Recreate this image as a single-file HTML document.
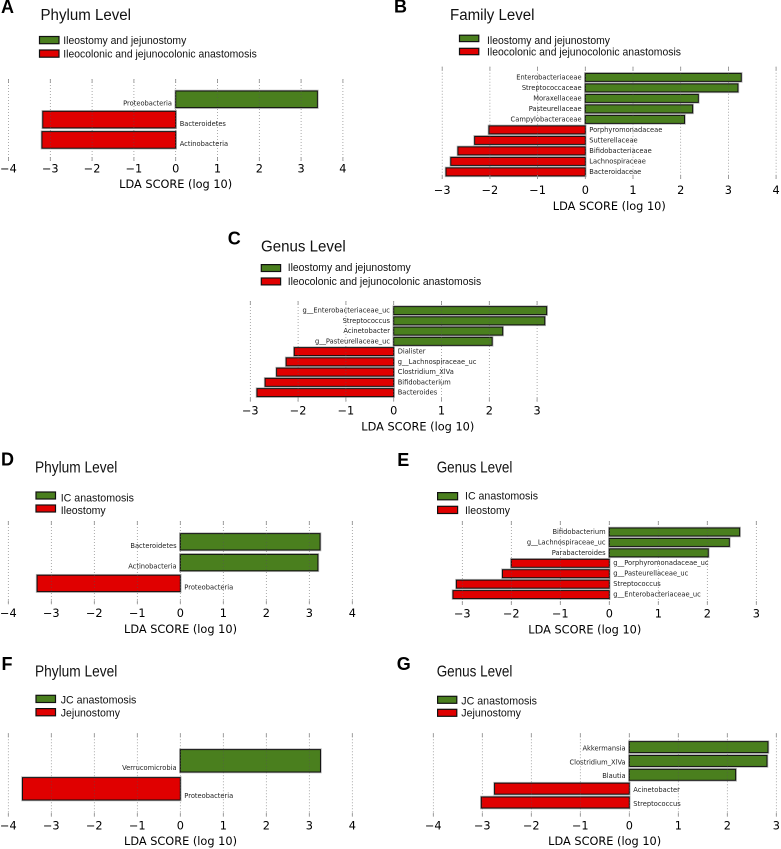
<!DOCTYPE html>
<html lang="en">
<head>
<meta charset="utf-8">
<title>LDA score panels</title>
<style>
html,body{margin:0;padding:0;background:#fff;width:781px;height:849px;overflow:hidden}
svg{display:block;filter:blur(0.3px)}
.letter{font-family:"Liberation Sans",sans-serif;font-weight:700;font-size:18px;fill:#000}
.title{font-family:"Liberation Sans",sans-serif;font-size:15.3px;fill:#111}
.legend-text{font-family:"Liberation Sans",sans-serif;font-size:10.8px;fill:#111}
.tick{font-family:"DejaVu Sans",sans-serif;font-size:11.3px;fill:#000;text-anchor:middle}
.axis-title{font-family:"DejaVu Sans",sans-serif;font-size:11.3px;fill:#000;text-anchor:middle}
.cat{font-family:"DejaVu Sans",sans-serif;font-size:6.7px;fill:#222}
</style>
</head>
<body>
<svg id="figure" xmlns="http://www.w3.org/2000/svg" width="781" height="849" viewBox="0 0 781 849"></svg>
<script>
const panelACategories = ["Proteobacteria","Bacteroidetes","Actinobacteria"];
const panelAValues = [3.39,-3.18,-3.2];
const panelATicks = [-4,-3,-2,-1,0,1,2,3,4];
const panelALegend = ["Ileostomy and jejunostomy","Ileocolonic and jejunocolonic anastomosis"];

const panelBCategories = ["Enterobacteriaceae","Streptococcaceae","Moraxellaceae","Pasteurellaceae","Campylobacteraceae","Porphyromonadaceae","Sutterellaceae","Bifidobacteriaceae","Lachnospiraceae","Bacteroidaceae"];
const panelBValues = [3.27,3.2,2.37,2.25,2.08,-2.02,-2.32,-2.67,-2.82,-2.92];
const panelBTicks = [-3,-2,-1,0,1,2,3,4];
const panelBLegend = ["Ileostomy and jejunostomy","Ileocolonic and jejunocolonic anastomosis"];

const panelCCategories = ["g__Enterobacteriaceae_uc","Streptococcus","Acinetobacter","g__Pasteurellaceae_uc","Dialister","g__Lachnospiraceae_uc","Clostridium_XlVa","Bifidobacterium","Bacteroides"];
const panelCValues = [3.2,3.16,2.28,2.06,-2.08,-2.25,-2.45,-2.69,-2.86];
const panelCTicks = [-3,-2,-1,0,1,2,3];
const panelCLegend = ["Ileostomy and jejunostomy","Ileocolonic and jejunocolonic anastomosis"];

const panelDCategories = ["Bacteroidetes","Actinobacteria","Proteobacteria"];
const panelDValues = [3.25,3.2,-3.33];
const panelDTicks = [-4,-3,-2,-1,0,1,2,3,4];
const panelDLegend = ["IC anastomosis","Ileostomy"];

const panelECategories = ["Bifidobacterium","g__Lachnospiraceae_uc","Parabacteroides","g__Porphyromonadaceae_uc","g__Pasteurellaceae_uc","Streptococcus","g__Enterobacteriaceae_uc"];
const panelEValues = [2.66,2.45,2.02,-2.0,-2.18,-3.12,-3.19];
const panelETicks = [-3,-2,-1,0,1,2,3];
const panelELegend = ["IC anastomosis","Ileostomy"];

const panelFCategories = ["Verrucomicrobia","Proteobacteria"];
const panelFValues = [3.26,-3.67];
const panelFTicks = [-4,-3,-2,-1,0,1,2,3,4];
const panelFLegend = ["JC anastomosis","Jejunostomy"];

const panelGCategories = ["Akkermansia","Clostridium_XlVa","Blautia","Acinetobacter","Streptococcus"];
const panelGValues = [2.83,2.81,2.17,-2.75,-3.02];
const panelGTicks = [-4,-3,-2,-1,0,1,2,3];
const panelGLegend = ["JC anastomosis","Jejunostomy"];

const NS = "http://www.w3.org/2000/svg";
const figure = document.getElementById("figure");

function make(parent, tag, attrs, text) {
  const el = document.createElementNS(NS, tag);
  for (const k in attrs) el.setAttribute(k, attrs[k]);
  if (text !== undefined) el.textContent = text;
  parent.appendChild(el);
  return el;
}

function drawPanel(p, categories, values, ticks, legend) {
  const g = make(figure, "g", {});
  
  
  const xScale = function (v) { return p.x0 + v * p.unit; };
  const yBand = function (i) { return p.barTop + i * p.pitch; };

  const letter = make(g, "text", {class:"letter", x:p.letterX, y:p.letterY}, p.id);
  
  

  const title = make(g, "text", {class:"title", x:p.titleX, y:p.titleY, textLength:p.titleW, lengthAdjust:"spacingAndGlyphs"}, p.title);
  
  

  legend.forEach(function (label, i) {
    const swatch = make(g, "rect", {x:p.swX, y:p.swY[i], width:p.swW, height:p.swH + 0.4, fill:i === 0 ? "#4a7f1e" : "#e00000", stroke:"#111", "stroke-width":1.2});
    
    
    const text = make(g, "text", {class:"legend-text", x:p.legX, y:p.legY[i], textLength:p.legW[i], lengthAdjust:"spacingAndGlyphs"}, label);
    
    
  });

  values.forEach(function (v, i) {
    const xa = xScale(Math.min(v, 0));
    const w = Math.abs(v) * p.unit;
    const halo = make(g, "rect", {x:xa - 0.8, y:yBand(i) - 0.8, width:w + 1.6, height:p.barH + 1.6, fill:"none", stroke:"#b5b5b5", "stroke-width":0.9});
    
    
    const bar = make(g, "rect", {x:xa, y:yBand(i), width:w, height:p.barH, fill:v >= 0 ? "#4a7f1e" : "#e00000", stroke:"#111", "stroke-width":1});
    
    
  });

  ticks.forEach(function (t) {
    const line = make(g, "line", {x1:xScale(t), x2:xScale(t), y1:p.gridTop, y2:p.gridBottom, stroke:"#555", "stroke-width":0.7, "stroke-dasharray":"1 2", opacity:0.7});
    
    
    const markTop = make(g, "line", {x1:xScale(t), x2:xScale(t), y1:p.gridTop, y2:p.gridTop + 4, stroke:"#888", "stroke-width":0.8});
    
    
    const markBottom = make(g, "line", {x1:xScale(t), x2:xScale(t), y1:p.gridBottom - 4, y2:p.gridBottom, stroke:"#888", "stroke-width":0.8});
    
    
    const label = make(g, "text", {class:"tick", x:xScale(t), y:p.tickY}, String(t).replace('-', '\u2212'));
    
    
  });

  categories.forEach(function (name, i) {
    const right = values[i] >= 0;
    const label = make(g, "text", {class:"cat", x:p.x0 + (right ? -3.7 : 4), y:yBand(i) + p.barH - 2.1, "text-anchor":right ? "end" : "start"}, name);
    
    
  });

  const axisTitle = make(g, "text", {class:"axis-title", x:p.labelX, y:p.labelY, textLength:113, lengthAdjust:"spacingAndGlyphs"}, "LDA SCORE (log 10)");
  
  
}

const panelALayout = {id:"A",title:"Phylum Level",letterX:1,letterY:13,titleX:40.5,titleY:20,titleW:90.5,swX:39.5,swY:[36.5,50],swW:19.5,swH:6.8,legX:63.3,legY:[44,57.5],legW:[123,193.5],x0:175.7,unit:41.8,barTop:91,pitch:20.3,barH:16.6,gridTop:79,gridBottom:161,tickY:172.5,labelX:175.7,labelY:188};
const panelBLayout = {id:"B",title:"Family Level",letterX:394,letterY:12.7,titleX:450,titleY:20,titleW:84.5,swX:459.5,swY:[35.2,48.3],swW:19.3,swH:6,legX:487,legY:[44,55.7],legW:[123,194],x0:585.3,unit:47.7,barTop:73.4,pitch:10.5,barH:8,gridTop:66.7,gridBottom:179,tickY:194,labelX:609.3,labelY:210};
const panelCLayout = {id:"C",title:"Genus Level",letterX:227.7,letterY:244.3,titleX:261,titleY:251.7,titleW:84.7,swX:261.3,swY:[264.6,278],swW:19.3,swH:6.5,legX:287.7,legY:[271,285],legW:[123,193.5],x0:393.7,unit:47.8,barTop:306.6,pitch:10.25,barH:8,gridTop:301,gridBottom:401.7,tickY:414.3,labelX:417.8,labelY:430.7};
const panelDLayout = {id:"D",title:"Phylum Level",letterX:1,letterY:465.7,titleX:35,titleY:472.7,titleW:82.3,swX:36,swY:[492,505],swW:19.5,swH:6.6,legX:60.7,legY:[501.3,514],legW:[73.3,45],x0:180.3,unit:43,barTop:533.6,pitch:20.8,barH:16.4,gridTop:521,gridBottom:604.3,tickY:617,labelX:180.5,labelY:633};
const panelELayout = {id:"E",title:"Genus Level",letterX:397.3,letterY:466,titleX:436.7,titleY:472.7,titleW:75.7,swX:437.6,swY:[492.6,506.3],swW:20,swH:6.8,legX:465,legY:[499.7,514],legW:[73,45],x0:609.3,unit:49,barTop:528,pitch:10.43,barH:8,gridTop:521,gridBottom:605,tickY:617.3,labelX:584.8,labelY:633.3};
const panelFLayout = {id:"F",title:"Phylum Level",letterX:1.5,letterY:670,titleX:35,titleY:676.7,titleW:82.3,swX:36,swY:[695.3,708.6],swW:19.5,swH:6.8,legX:60.7,legY:[703.7,716.3],legW:[75.7,59.3],x0:180.3,unit:43,barTop:749.6,pitch:28,barH:22.4,gridTop:733.3,gridBottom:816.7,tickY:829.3,labelX:180.5,labelY:845};
const panelGLayout = {id:"G",title:"Genus Level",letterX:396.7,letterY:670,titleX:436.7,titleY:676.7,titleW:75.7,swX:437.6,swY:[696.3,709.3],swW:19.2,swH:6.6,legX:461.3,legY:[704.7,716.7],legW:[75.7,59.7],x0:629.3,unit:49,barTop:741.6,pitch:13.85,barH:11,gridTop:733.3,gridBottom:816.7,tickY:829.3,labelX:604.7,labelY:845};

drawPanel(panelALayout, panelACategories, panelAValues, panelATicks, panelALegend);
drawPanel(panelBLayout, panelBCategories, panelBValues, panelBTicks, panelBLegend);
drawPanel(panelCLayout, panelCCategories, panelCValues, panelCTicks, panelCLegend);
drawPanel(panelDLayout, panelDCategories, panelDValues, panelDTicks, panelDLegend);
drawPanel(panelELayout, panelECategories, panelEValues, panelETicks, panelELegend);
drawPanel(panelFLayout, panelFCategories, panelFValues, panelFTicks, panelFLegend);
drawPanel(panelGLayout, panelGCategories, panelGValues, panelGTicks, panelGLegend);
</script>
</body>
</html>
